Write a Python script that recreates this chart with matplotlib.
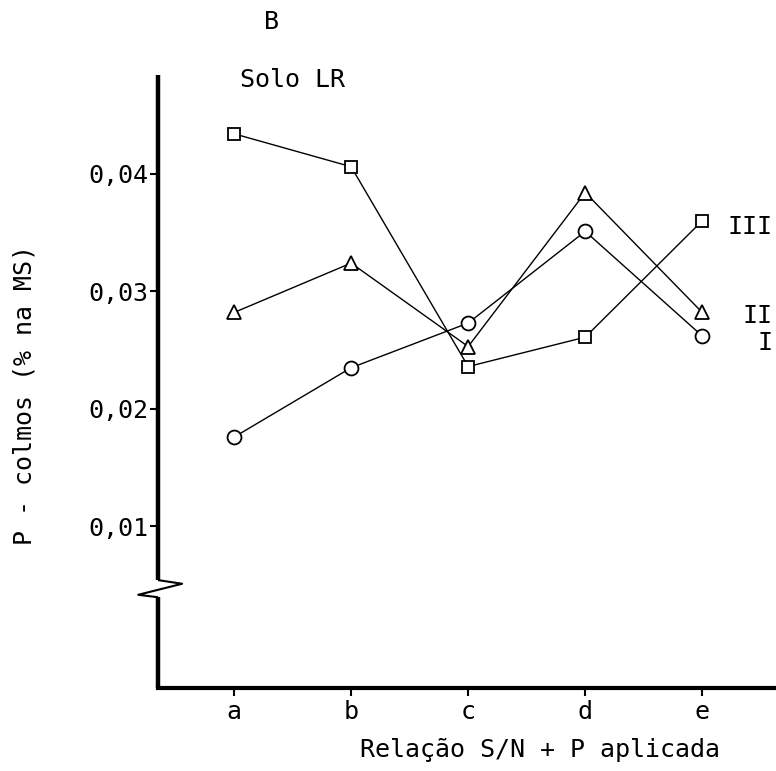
import matplotlib.pyplot as plt

# values (P in culms, % of dry matter)
categories = ['a', 'b', 'c', 'd', 'e']
serie_I = [0.0176, 0.0235, 0.0273, 0.0351, 0.0262]    # circles
serie_II = [0.0282, 0.0324, 0.0253, 0.0384, 0.0282]   # triangles
serie_III = [0.0434, 0.0406, 0.0236, 0.0261, 0.0360]  # squares
y_ticks = [0.01, 0.02, 0.03, 0.04]
y_ticklabels = ['0,01', '0,02', '0,03', '0,04']

plt.rcParams['font.family'] = ['DejaVu Sans Mono', 'DejaVu Sans']
fs = 18

fig = plt.figure(figsize=(7.76, 7.71), dpi=100)
ax = fig.add_axes([0.2036, 0.1077, 0.7964, 0.795])

x = list(range(len(categories)))
style = dict(color='black', lw=1.0, markerfacecolor='white',
             markeredgecolor='black', markeredgewidth=1.3, clip_on=False)
ax.plot(x, serie_III, marker='s', markersize=9, **style)
ax.plot(x, serie_II, marker='^', markersize=10, **style)
ax.plot(x, serie_I, marker='o', markersize=10, **style)

ax.set_xlim(-0.65, 4.63)
ax.set_ylim(-0.00374, 0.0484)

ax.set_xticks(x)
ax.set_xticklabels(categories)
ax.set_yticks(y_ticks)
ax.set_yticklabels(y_ticklabels)
ax.tick_params(axis='both', labelsize=fs, width=1.5, length=6, direction='out')
ax.tick_params(axis='y', pad=1)
ax.tick_params(axis='x', pad=3)

for side in ['top', 'right', 'left']:
    ax.spines[side].set_visible(False)
ax.spines['bottom'].set_linewidth(3)

# left axis drawn by hand, with a break mark
kw = dict(transform=ax.transAxes, color='black', clip_on=False, solid_capstyle='butt')
ax.plot([0, 0], [0, 0.148], lw=3.2, **kw)
ax.plot([0, 0], [0.176, 1.0], lw=3.2, **kw)
ax.plot([0, 0.039, -0.032, 0], [0.176, 0.170, 0.152, 0.148], lw=1.5, **kw)

# series labels on the right
last = len(categories) - 1
ax.text(0.995, serie_III[last] - 0.0005, 'III', transform=ax.get_yaxis_transform(),
        ha='right', va='center', fontsize=fs)
ax.text(0.995, serie_II[last] - 0.0003, 'II', transform=ax.get_yaxis_transform(),
        ha='right', va='center', fontsize=fs)
ax.text(0.995, serie_I[last] - 0.0006, 'I', transform=ax.get_yaxis_transform(),
        ha='right', va='center', fontsize=fs)

fig.text(272 / 776, 1 - 22 / 771, 'B', ha='center', va='center', fontsize=fs)
fig.text(292 / 776, 1 - 80 / 771, 'Solo LR', ha='center', va='center', fontsize=fs)
fig.text(540 / 776, 1 - 750 / 771, 'Relação S/N + P aplicada', ha='center', va='center',
         fontsize=fs)
fig.text(25 / 776, 1 - 395 / 771, 'P - colmos (% na MS)', ha='center', va='center',
         rotation=90, fontsize=fs)

fig.savefig('out.png', dpi=100)
